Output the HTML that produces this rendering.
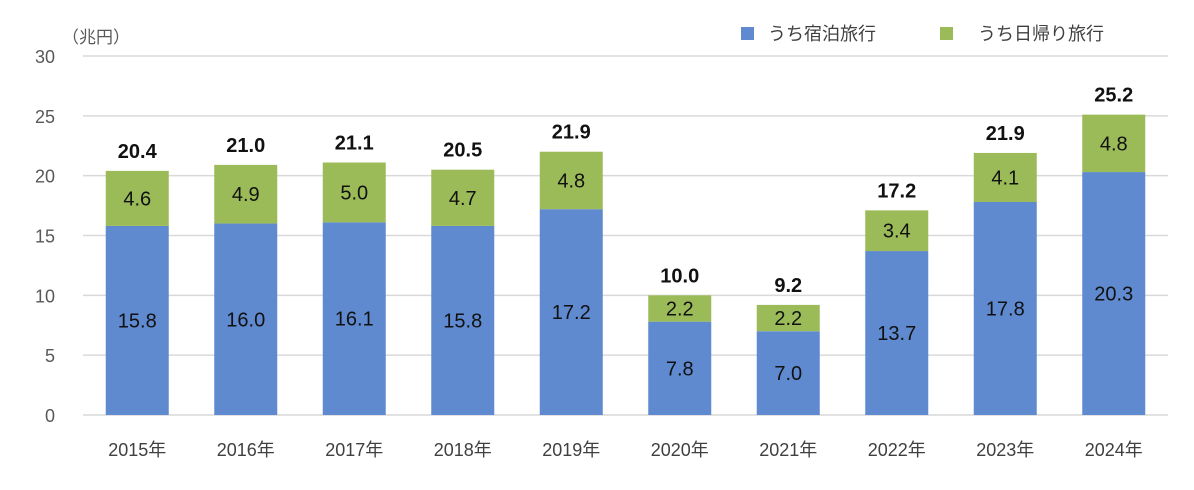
<!DOCTYPE html>
<html><head><meta charset="utf-8"><style>
body{margin:0;background:#fff;}
svg{display:block;font-family:"Liberation Sans","Noto Sans CJK JP",sans-serif;}
</style></head><body>
<svg id="chart" width="1194" height="490">
<text x="62" y="43" font-size="17" fill="#595959">（兆円）</text>
<g>
<rect x="741" y="27" width="13" height="13" fill="#5F8ACF"/>
<text x="768" y="40" font-size="18" fill="#404040">うち宿泊旅行</text>
<rect x="940" y="27" width="13" height="13" fill="#9BBB59"/>
<text x="978" y="40" font-size="18" fill="#404040">うち日帰り旅行</text>
</g>
<g id="grid"></g><g id="bars"></g><g id="labels"></g>
</svg>
<script>
const categories=["2015年","2016年","2017年","2018年","2019年","2020年","2021年","2022年","2023年","2024年"];
const overnight=[15.8,16.0,16.1,15.8,17.2,7.8,7.0,13.7,17.8,20.3];
const daytrip=[4.6,4.9,5.0,4.7,4.8,2.2,2.2,3.4,4.1,4.8];
const totals=[20.4,21.0,21.1,20.5,21.9,10.0,9.2,17.2,21.9,25.2];
const yTicks=[0,5,10,15,20,25,30];
const X0=83,X1=1168,Y0=415,Y1=56,YMAX=30;
const band=(X1-X0)/categories.length,BW=63;
const y=v=>Y0-(v/YMAX)*(Y0-Y1);
const xc=i=>X0+band*(i+0.5);
const NS="http://www.w3.org/2000/svg";
function mk(tag,attrs,parent,txt){const e=document.createElementNS(NS,tag);for(const k in attrs)e.setAttribute(k,attrs[k]);if(txt!==undefined)e.textContent=txt;parent.appendChild(e);return e;}
const g=document.getElementById('grid'),b=document.getElementById('bars'),l=document.getElementById('labels');
yTicks.forEach(t=>{
const ln=mk('line',{x1:X0,x2:X1,y1:y(t),y2:y(t),stroke:'#D9D9D9','stroke-width':1.5},g);


const tx=mk('text',{x:55,y:y(t)+7,'text-anchor':'end','font-size':18,fill:'#595959'},g,String(t));


});
categories.forEach((c,i)=>{
const x=xc(i)-BW/2;
const r1=mk('rect',{x:x,y:y(overnight[i]),width:BW,height:y(0)-y(overnight[i]),fill:'#5F8ACF'},b);


const top=overnight[i]+daytrip[i];
const r2=mk('rect',{x:x,y:y(top),width:BW,height:y(overnight[i])-y(top),fill:'#9BBB59'},b);


const t1=mk('text',{x:xc(i),y:(y(0)+y(overnight[i]))/2+7,'text-anchor':'middle','font-size':20,fill:'#111'},l,overnight[i].toFixed(1));


const t2=mk('text',{x:xc(i),y:(y(overnight[i])+y(top))/2+7,'text-anchor':'middle','font-size':20,fill:'#111'},l,daytrip[i].toFixed(1));


const t3=mk('text',{x:xc(i),y:y(top)-13,'text-anchor':'middle','font-size':20,'font-weight':'bold',fill:'#111'},l,totals[i].toFixed(1));


const t4=mk('text',{x:xc(i),y:456,'text-anchor':'middle','font-size':18,fill:'#404040'},l,c);


});
</script>
</body></html>
